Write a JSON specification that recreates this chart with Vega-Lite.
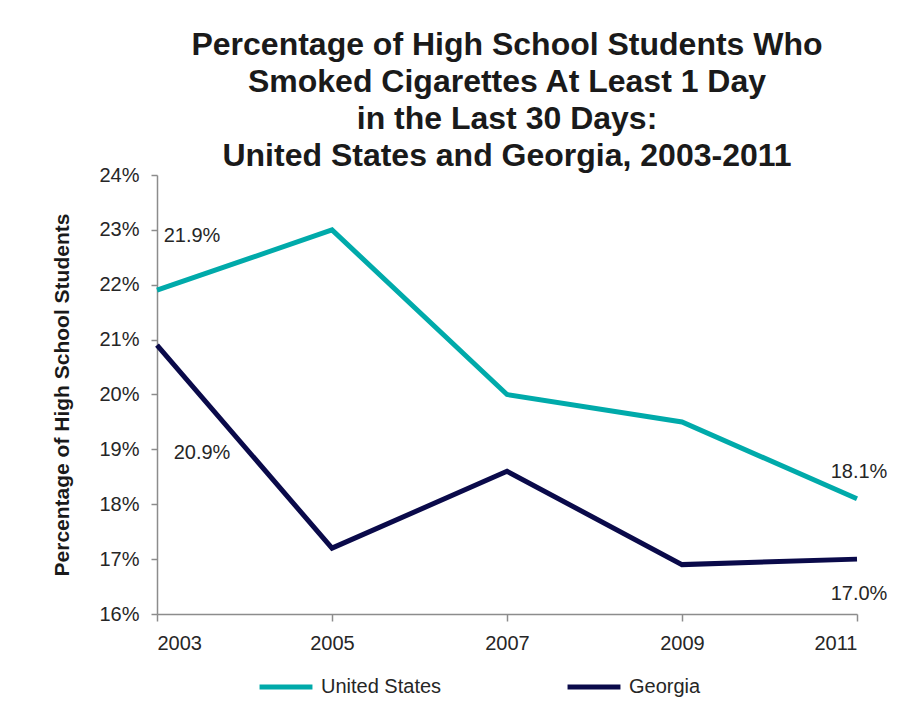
{
  "$schema": "https://vega.github.io/schema/vega-lite/v6.json",
  "width": 700,
  "height": 439,
  "autosize": {"type": "none"},
  "padding": {"left": 157, "top": 175, "right": 64, "bottom": 105},
  "background": "white",
  "config": {
    "view": {"stroke": null},
    "font": "Liberation Sans",
    "axis": {"grid": false, "domainColor": "#8c8c8c", "tickColor": "#8c8c8c", "domainWidth": 1.5, "tickWidth": 1.5, "labelColor": "#262626", "labelFont": "Liberation Sans", "labelFontSize": 20}
  },
  "title": {
    "text": ["Percentage of High School Students Who", "Smoked Cigarettes At Least 1 Day", "in the Last 30 Days:", "United States and Georgia, 2003-2011"],
    "font": "Liberation Sans",
    "fontSize": 32,
    "fontWeight": "bold",
    "color": "#1a1a1a",
    "lineHeight": 37,
    "anchor": "middle",
    "frame": "group",
    "offset": -8
  },
  "data": {
    "values": [
      {"year": 2003, "series": "United States", "value": 0.219},
      {"year": 2005, "series": "United States", "value": 0.230},
      {"year": 2007, "series": "United States", "value": 0.200},
      {"year": 2009, "series": "United States", "value": 0.195},
      {"year": 2011, "series": "United States", "value": 0.181},
      {"year": 2003, "series": "Georgia", "value": 0.209},
      {"year": 2005, "series": "Georgia", "value": 0.172},
      {"year": 2007, "series": "Georgia", "value": 0.186},
      {"year": 2009, "series": "Georgia", "value": 0.169},
      {"year": 2011, "series": "Georgia", "value": 0.170}
    ]
  },
  "encoding": {
    "x": {
      "field": "year", "type": "quantitative",
      "scale": {"domain": [2003, 2011], "nice": false, "zero": false},
      "axis": {"title": null, "values": [2003, 2005, 2007, 2009, 2011], "format": "d", "tickSize": 7, "labelPadding": 12, "labelOverlap": false}
    },
    "y": {
      "field": "value", "type": "quantitative",
      "scale": {"domain": [0.16, 0.24], "nice": false, "zero": false},
      "axis": {"title": "Percentage of High School Students", "titleFontSize": 21, "titleFontWeight": "bold", "titleColor": "#1a1a1a", "titleFont": "Liberation Sans", "titlePadding": 26, "format": ".0%", "values": [0.16, 0.17, 0.18, 0.19, 0.20, 0.21, 0.22, 0.23, 0.24], "tickSize": 6, "labelPadding": 12, "labelOverlap": false}
    }
  },
  "layer": [
    {
      "mark": {"type": "line", "strokeWidth": 5, "strokeJoin": "miter"},
      "encoding": {
        "color": {
          "field": "series", "type": "nominal",
          "scale": {"domain": ["United States", "Georgia"], "range": ["#00AAAA", "#0A0A4A"]},
          "legend": {"title": null, "orient": "none", "direction": "horizontal", "legendX": 100, "legendY": 483, "symbolType": "stroke", "symbolSize": 2800, "symbolStrokeWidth": 5, "labelFontSize": 20, "labelColor": "#262626", "labelFont": "Liberation Sans", "columnPadding": 115, "labelOffset": 6}
        }
      }
    },
    {
      "transform": [{"filter": "datum.series == 'United States' && datum.year == 2003"}],
      "mark": {"type": "text", "fontSize": 20, "color": "#262626", "dx": 35, "dy": -54},
      "encoding": {"text": {"field": "value", "type": "quantitative", "format": ".1%"}}
    },
    {
      "transform": [{"filter": "datum.series == 'Georgia' && datum.year == 2003"}],
      "mark": {"type": "text", "fontSize": 20, "color": "#262626", "dx": 45, "dy": 108},
      "encoding": {"text": {"field": "value", "type": "quantitative", "format": ".1%"}}
    },
    {
      "transform": [{"filter": "datum.series == 'United States' && datum.year == 2011"}],
      "mark": {"type": "text", "fontSize": 20, "color": "#262626", "dx": 2, "dy": -27},
      "encoding": {"text": {"field": "value", "type": "quantitative", "format": ".1%"}}
    },
    {
      "transform": [{"filter": "datum.series == 'Georgia' && datum.year == 2011"}],
      "mark": {"type": "text", "fontSize": 20, "color": "#262626", "dx": 2, "dy": 35},
      "encoding": {"text": {"field": "value", "type": "quantitative", "format": ".1%"}}
    }
  ]
}
